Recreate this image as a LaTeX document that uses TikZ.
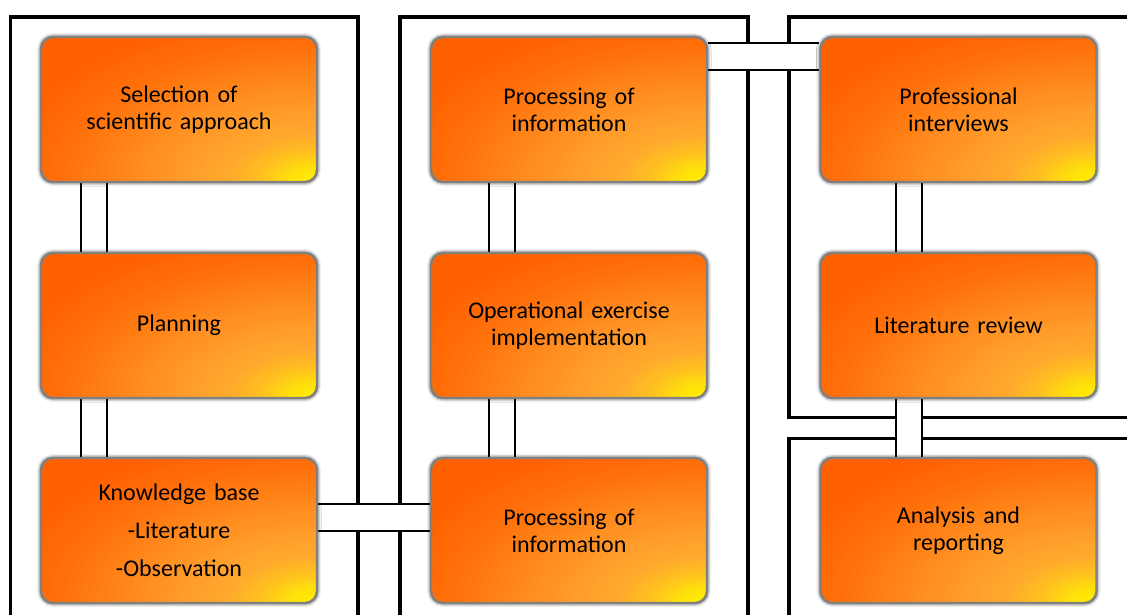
\documentclass[tikz,border=0pt]{standalone}
\usepackage{fontspec}
\setmainfont{Carlito}
\usepackage{xcolor}
\usetikzlibrary{positioning,calc,shadows.blur}
\pgfdeclarelayer{back}
\pgfsetlayers{back,main}
\definecolor{glowyellow}{RGB}{255,242,0}
\definecolor{glowpale}{RGB}{255,225,10}
\definecolor{glowsoft}{RGB}{255,196,30}
\definecolor{glowlight}{RGB}{255,170,45}
\definecolor{glowmid}{RGB}{255,156,42}
\definecolor{glowwarm}{RGB}{255,136,28}
\definecolor{glowdeep}{RGB}{255,112,10}
\definecolor{deeporange}{RGB}{255,96,0}
\definecolor{rimgray}{RGB}{128,128,128}
\tikzset{
  stepbox/.style={rectangle, rounded corners=12pt, fill=deeporange, inner sep=0pt,
    draw=rimgray, line width=2.4pt,
    minimum width=276pt, minimum height=145pt, text width=262pt, align=center,
    font=\fontsize{24pt}{27pt}\selectfont,
    path picture={
      % glow from the lower right corner, as rings of mixed colour
      \foreach \ra/\rb/\ca/\cb in {1.00/0.80/deeporange/glowdeep, 0.80/0.60/glowdeep/glowwarm,
          0.60/0.42/glowwarm/glowmid, 0.42/0.28/glowmid/glowlight, 0.28/0.17/glowlight/glowsoft,
          0.17/0.09/glowsoft/glowpale, 0.09/0.00/glowpale/glowyellow}{
        \foreach \k in {0,...,7}{
          \pgfmathsetmacro\rr{\ra-(\ra-\rb)*\k/8}
          \pgfmathsetmacro\pp{100-100*\k/8}
          \fill[\ca!\pp!\cb] (path picture bounding box.south east)
            ellipse [x radius=\rr*325pt, y radius=\rr*172pt];
        }
      }
    },
    blur shadow={shadow xshift=0pt, shadow yshift=0pt, shadow blur radius=4pt, shadow opacity=95}},
  frame/.style={draw=black, line width=3.3pt},
  pipeline/.style={draw=black, line width=2.2pt}
}
\newcommand{\stepnode}[3]{\node [stepbox] (#1) at (#2) {#3}}
% vertical pipe: upper node, lower node, offset of left line from west side
\newcommand{\vpipe}[3]{%
  \fill[white] ([xshift=#3]#1.south west) rectangle ([xshift=#3+26pt]#2.north west);
  \draw[pipeline] ([xshift=#3]#1.south west) -- ([xshift=#3]#2.north west);
  \draw[pipeline] ([xshift=#3+26pt]#1.south west) -- ([xshift=#3+26pt]#2.north west);}
% horizontal pipe: left node, right node, offset of upper line below the top
\newcommand{\hpipe}[3]{%
  \fill[white] ([yshift=-#3]#1.north east) rectangle ([yshift=-#3-27pt]#2.north west);
  \draw[pipeline] ([yshift=-#3]#1.north east) -- ([yshift=-#3]#2.north west);
  \draw[pipeline] ([yshift=-#3-27pt]#1.north east) -- ([yshift=-#3-27pt]#2.north west);}

\begin{document}
\begin{tikzpicture}[x=1pt, y=-1pt]

\useasboundingbox (0,0) rectangle (1127,615);

\stepnode{SEL}{179,109.5}{Selection of\\scientific approach};
\stepnode{PLAN}{179,325.5}{Planning};
\stepnode{KB}{179,530.5}{Knowledge base\\[11pt]-Literature\\[11pt]-Observation};

\stepnode{PROCA}{569,109.5}{Processing of\\information};
\stepnode{OPEX}{569,325.5}{Operational exercise\\implementation};
\stepnode{PROCB}{569,530.5}{Processing of\\information};

\stepnode{PROF}{958.5,109.5}{Professional\\interviews};
\stepnode{LITREV}{958.5,325.5}{Literature review};
\stepnode{ANREP}{958.5,530.5}{Analysis and\\reporting};

\begin{pgfonlayer}{back}
\clip (0,0) rectangle (1127,615);
% frames
\draw[frame] (10.5,17) rectangle (358,640);
\draw[frame] (400,17) rectangle (748,640);
\draw[frame] (789,17) rectangle (1150,417.5);
\draw[frame] (789,438.5) rectangle (1150,640);

% pipes
\vpipe{SEL}{PLAN}{41pt}
\vpipe{PLAN}{KB}{41pt}
\vpipe{PROCA}{OPEX}{59pt}
\vpipe{OPEX}{PROCB}{59pt}
\vpipe{PROF}{LITREV}{77pt}
\vpipe{LITREV}{ANREP}{77pt}
\hpipe{KB}{PROCB}{47pt}
\hpipe{PROCA}{PROF}{7pt}
\end{pgfonlayer}

\end{tikzpicture}
\end{document}
